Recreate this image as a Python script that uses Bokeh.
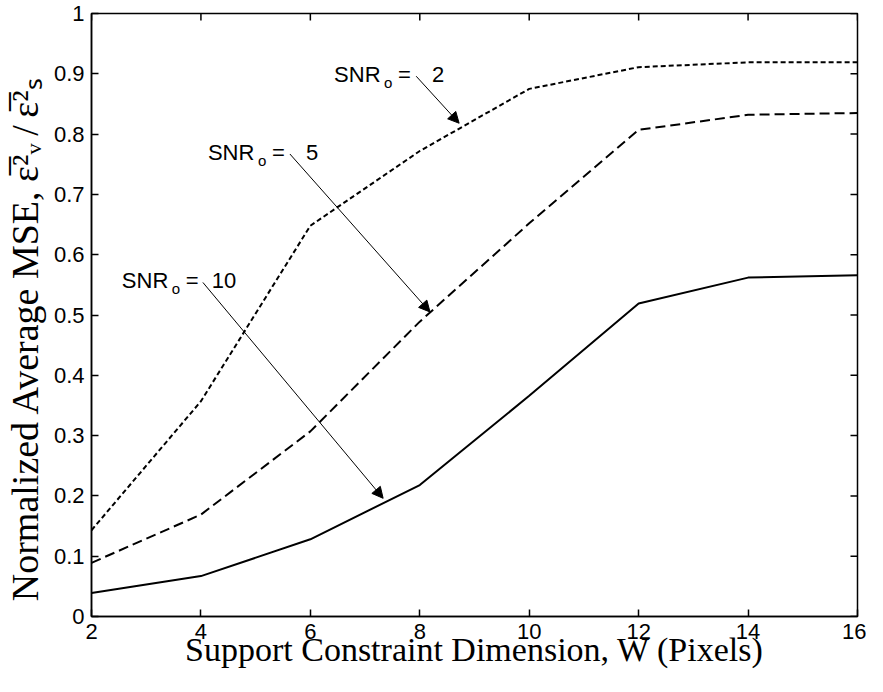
import math
from bokeh.plotting import figure
from bokeh.models import FixedTicker, Arrow, NormalHead, ColumnDataSource, Range1d
from bokeh.core.properties import value
from bokeh.embed import file_html
from bokeh.resources import INLINE

# ---- data ----
W = [2, 4, 6, 8, 10, 12, 14, 16]
mse_snr2 = [0.143, 0.357, 0.648, 0.772, 0.875, 0.911, 0.919, 0.919]
mse_snr5 = [0.089, 0.169, 0.307, 0.489, 0.652, 0.807, 0.832, 0.835]
mse_snr10 = [0.039, 0.067, 0.128, 0.218, 0.366, 0.519, 0.562, 0.566]

x_ticks = [2, 4, 6, 8, 10, 12, 14, 16]
y_ticks = [0, 0.1, 0.2, 0.3, 0.4, 0.5, 0.6, 0.7, 0.8, 0.9, 1]
y_tick_labels = ["0", "0.1", "0.2", "0.3", "0.4", "0.5", "0.6", "0.7", "0.8", "0.9", "1"]

# annotations: label anchor (data units) and arrow start / tip (data units)
ann_snr = ["2", "5", "10"]
ann_x = [6.434, 4.127, 2.555]
ann_y = [0.899, 0.769, 0.557]
arrow_x0 = [7.934, 5.626, 4.036]
arrow_y0 = [0.896, 0.767, 0.554]
arrow_x1 = [8.719, 8.187, 7.330]
arrow_y1 = [0.818, 0.505, 0.196]

x_title = "Support Constraint Dimension, W (Pixels)"
y_title = ("Normalized Average MSE, "
           "\u03b5\u0305\u00b2\u1d65\u2009/\u2009\u03b5\u0305\u00b2\u209b")

SANS = "Liberation Sans"
SERIF = "Liberation Serif"

x_min, x_max = x_ticks[0], x_ticks[-1]
y_min, y_max = y_ticks[0], y_ticks[-1]

p = figure(width=866, height=676,
           x_range=Range1d(x_min, x_max), y_range=Range1d(y_min, y_max),
           output_backend="svg", toolbar_location=None,
           min_border_left=85, min_border_right=9,
           min_border_top=13, min_border_bottom=60)
p.background_fill_color = "white"
p.border_fill_color = "white"
p.outline_line_color = "black"
p.outline_line_width = 1.5
p.xgrid.visible = False
p.ygrid.visible = False

# curves
p.line(W, mse_snr2, line_color="black", line_width=2, line_dash="5 3")
p.line(W, mse_snr5, line_color="black", line_width=2, line_dash="10 5")
p.line(W, mse_snr10, line_color="black", line_width=2)

# inward ticks on the top and right edges of the box
p.ray(x=x_ticks, y=[y_max] * len(x_ticks), length=7, length_units="screen",
      angle=-math.pi / 2, line_color="black", line_width=1.5)
p.ray(x=[x_max] * len(y_ticks), y=y_ticks, length=7, length_units="screen",
      angle=math.pi, line_color="black", line_width=1.5)

xa = p.xaxis[0]
ya = p.yaxis[0]
xa.ticker = FixedTicker(ticks=x_ticks)
ya.ticker = FixedTicker(ticks=y_ticks)
ya.major_label_overrides = dict(zip(y_ticks, y_tick_labels))

for ax in (xa, ya):
    ax.major_tick_in = 7
    ax.major_tick_out = 0
    ax.minor_tick_in = 0
    ax.minor_tick_out = 0
    ax.axis_line_width = 1.5
    ax.axis_line_color = "black"
    ax.major_tick_line_width = 1.5
    ax.major_tick_line_color = "black"
    ax.major_label_text_font = SANS
    ax.major_label_text_font_size = "22px"
    ax.major_label_text_color = "black"
    ax.axis_label_text_font = SERIF
    ax.axis_label_text_font_style = "normal"
    ax.axis_label_text_color = "black"

xa.major_label_standoff = 7
xa.axis_label = x_title
xa.axis_label_text_font_size = "34px"
xa.axis_label_standoff = -11

ya.major_label_standoff = 7
# trailing no-break spaces move the centred title slightly down, as in the reference
ya.axis_label = y_title + "\u00a0" * 5
ya.axis_label_text_font_size = "38px"
ya.axis_label_standoff = 5

# annotation texts
src = ColumnDataSource(dict(x=ann_x, y=ann_y, snr=ann_snr,
                            base=["SNR"] * len(ann_snr),
                            sub=["o"] * len(ann_snr),
                            eq=["="] * len(ann_snr),
                            noff=[98 if len(s) == 1 else 90 for s in ann_snr]))
common = dict(source=src, text_font=value(SANS), text_baseline="alphabetic",
              text_align="left", text_color="black")
p.text(x="x", y="y", text="base", text_font_size="22px", **common)
p.text(x="x", y="y", text="sub", x_offset=50, y_offset=8, text_font_size="15px", **common)
p.text(x="x", y="y", text="eq", x_offset=64, text_font_size="22px", **common)
p.text(x="x", y="y", text="snr", x_offset="noff", text_font_size="22px", **common)

asrc = ColumnDataSource(dict(x0=arrow_x0, y0=arrow_y0, x1=arrow_x1, y1=arrow_y1))
p.add_layout(Arrow(end=NormalHead(size=11, fill_color="black", line_color="black", line_width=1),
                   x_start="x0", y_start="y0", x_end="x1", y_end="y1", source=asrc,
                   line_color="black", line_width=1))

open("out.html", "w").write(file_html(p, INLINE))
